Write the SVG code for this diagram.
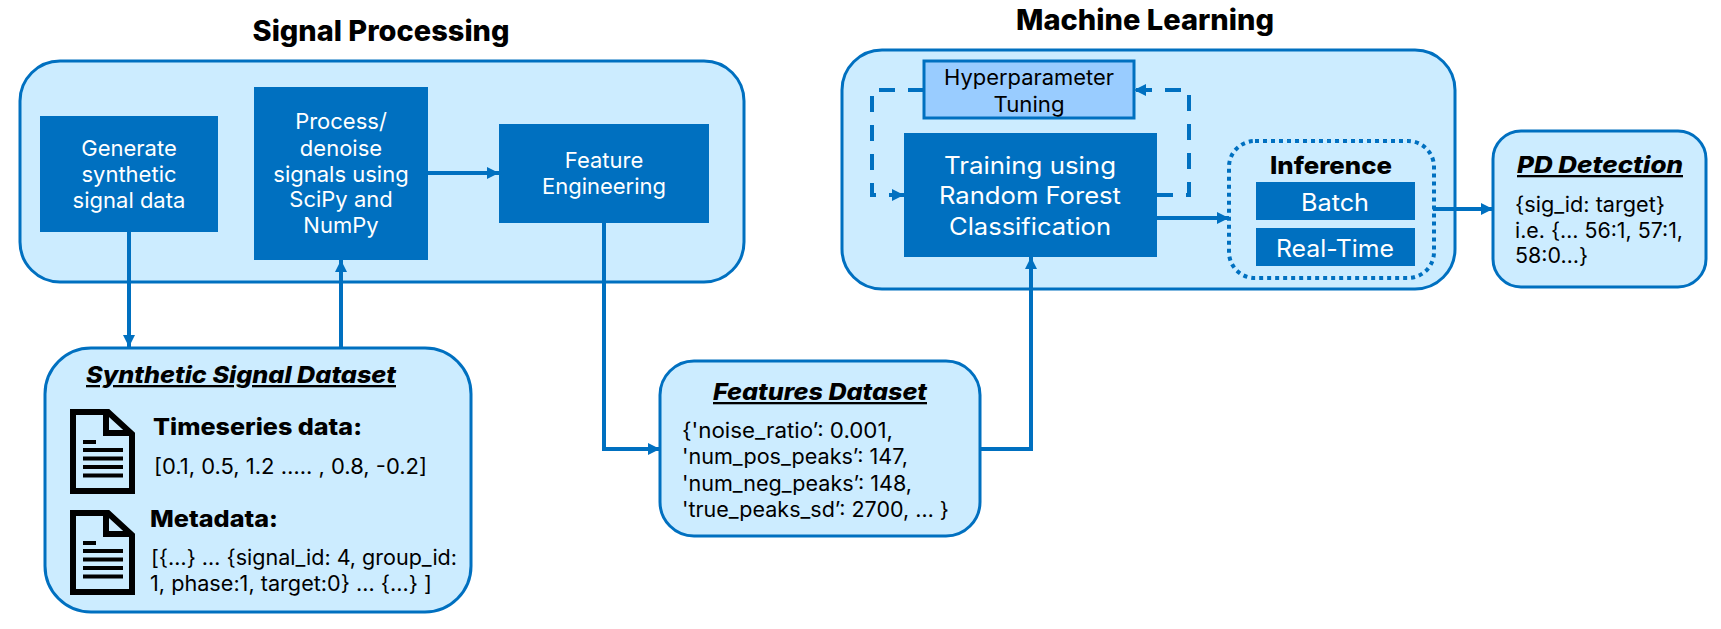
<svg xmlns="http://www.w3.org/2000/svg" xmlns:xlink="http://www.w3.org/1999/xlink" width="1721" height="629" viewBox="0 0 1721 629">
<style>
text{font-family:Inter,"Noto Sans","Liberation Sans",sans-serif;fill:#000}
.panel{fill:#CCECFF;stroke:#0070C0;stroke-width:3}
.box{fill:#0070C0}
.w{fill:#fff;font-size:22px;text-anchor:middle}
.h{font-size:28px;font-weight:800;text-anchor:middle}
.t{font-size:23px;font-weight:800;font-style:italic;text-decoration:underline}
.b{font-size:23px;font-weight:800}
.r{font-size:21px}
.c{fill:none;stroke:#0070C0;stroke-width:4}
.i{fill:none;stroke:#000;stroke-width:6}
.il{stroke:#000;stroke-width:4}
</style>
<defs>
<marker id="a" markerUnits="userSpaceOnUse" markerWidth="14" markerHeight="14" refX="12" refY="7" orient="auto"><path d="M0,1 L12,7 L0,13 Z" fill="#0070C0"/></marker>
<g id="doc">
<path class="i" d="M3,3 H38 L62,25 V82 H3 Z M36,3 V24 H62"/>
<path class="il" d="M13,33 H26 M13,41 H53 M13,49.600 H53 M13,58 H53 M13,66.600 H53"/>
</g>
</defs>
<g id="signal-title"><text class="h" x="381" y="41" textLength="257" lengthAdjust="spacingAndGlyphs">Signal Processing</text></g>
<g id="ml-title"><text class="h" x="1145" y="30" textLength="258" lengthAdjust="spacingAndGlyphs">Machine Learning</text></g>
<g id="signal-panel"><rect class="panel" x="20" y="61" width="724" height="221" rx="40"/></g>
<g id="ml-panel"><rect class="panel" x="842" y="50" width="613" height="239" rx="40"/></g>
<g id="connectors">
<path class="c" d="M129,232 V347" marker-end="url(#a)"/>
<path class="c" d="M341,348 V260" marker-end="url(#a)"/>
<path class="c" d="M428,173 H499" marker-end="url(#a)"/>
<path class="c" d="M604,223 V449 H660" marker-end="url(#a)"/>
<path class="c" d="M980,449 H1031 V257" marker-end="url(#a)"/>
<path class="c" d="M1157,218 H1229" marker-end="url(#a)"/>
<path class="c" d="M1433,209 H1493" marker-end="url(#a)"/>
<path class="c" d="M924,90 H872 V195 H904" stroke-dasharray="16 13" marker-end="url(#a)"/>
<path class="c" d="M1157,195 H1189 V90 H1134" stroke-dasharray="16 13" marker-end="url(#a)"/>
</g>
<g id="generate"><rect class="box" x="40" y="116" width="178" height="116"/>
<text class="w" x="129" y="156">Generate</text><text class="w" x="129" y="182">synthetic</text><text class="w" x="129" y="208">signal data</text></g>
<g id="process"><rect class="box" x="254" y="87" width="174" height="173"/>
<text class="w" x="341" y="129">Process/</text><text class="w" x="341" y="156">denoise</text><text class="w" x="341" y="182">signals using</text><text class="w" x="341" y="207">SciPy and</text><text class="w" x="341" y="233">NumPy</text></g>
<g id="feature-eng"><rect class="box" x="499" y="124" width="210" height="99"/>
<text class="w" x="604" y="168">Feature</text><text class="w" x="604" y="194">Engineering</text></g>
<g id="synthetic"><rect class="panel" x="45" y="348" width="426" height="264" rx="46"/>
<text class="t" x="86" y="383" textLength="310" lengthAdjust="spacingAndGlyphs">Synthetic Signal Dataset</text>
<use xlink:href="#doc" href="#doc" x="70" y="409"/>
<text class="b" x="153" y="435" textLength="209" lengthAdjust="spacingAndGlyphs">Timeseries data:</text>
<text class="r" x="154" y="474" textLength="273" lengthAdjust="spacingAndGlyphs">[0.1, 0.5, 1.2 ….. , 0.8, -0.2]</text>
<use xlink:href="#doc" href="#doc" x="70" y="510"/>
<text class="b" x="150" y="527" textLength="128" lengthAdjust="spacingAndGlyphs">Metadata:</text>
<text class="r" x="151" y="565" textLength="306" lengthAdjust="spacingAndGlyphs">[{…} … {signal_id: 4, group_id:</text>
<text class="r" x="150" y="591" textLength="282" lengthAdjust="spacingAndGlyphs">1, phase:1, target:0} … {…} ]</text></g>
<g id="features"><rect class="panel" x="660" y="361" width="320" height="175" rx="34"/>
<text class="t" x="713" y="400" textLength="214" lengthAdjust="spacingAndGlyphs">Features Dataset</text>
<text class="r" x="682" y="438" textLength="211" lengthAdjust="spacingAndGlyphs">{'noise_ratio’: 0.001,</text>
<text class="r" x="682" y="464" textLength="226" lengthAdjust="spacingAndGlyphs">'num_pos_peaks’: 147,</text>
<text class="r" x="682" y="491" textLength="230" lengthAdjust="spacingAndGlyphs">'num_neg_peaks’: 148,</text>
<text class="r" x="682" y="517" textLength="267" lengthAdjust="spacingAndGlyphs">'true_peaks_sd’: 2700, … }</text></g>
<g id="hyper"><rect x="924" y="61" width="210" height="57" fill="#99CCFF" stroke="#0070C0" stroke-width="3"/>
<text class="r" x="1029" y="85" text-anchor="middle" textLength="170" lengthAdjust="spacingAndGlyphs">Hyperparameter</text>
<text class="r" x="1029" y="112" text-anchor="middle" textLength="71" lengthAdjust="spacingAndGlyphs">Tuning</text></g>
<g id="training"><rect class="box" x="904" y="133" width="253" height="124"/>
<text class="w" x="1030" y="174" style="font-size:24px" textLength="172" lengthAdjust="spacingAndGlyphs">Training using</text>
<text class="w" x="1030" y="204" style="font-size:24px" textLength="182" lengthAdjust="spacingAndGlyphs">Random Forest</text>
<text class="w" x="1030" y="235" style="font-size:24px" textLength="162" lengthAdjust="spacingAndGlyphs">Classification</text></g>
<g id="inference"><rect x="1229" y="141" width="205" height="137" rx="26" fill="none" stroke="#0070C0" stroke-width="4" stroke-dasharray="4 4"/>
<text x="1331" y="174" font-size="24" font-weight="800" text-anchor="middle" textLength="122" lengthAdjust="spacingAndGlyphs">Inference</text>
<rect class="box" x="1256" y="182" width="159" height="38"/>
<text class="w" x="1335" y="211" style="font-size:24px" textLength="68" lengthAdjust="spacingAndGlyphs">Batch</text>
<rect class="box" x="1256" y="228" width="159" height="38"/>
<text class="w" x="1335" y="257" style="font-size:24px" textLength="118" lengthAdjust="spacingAndGlyphs">Real-Time</text></g>
<g id="pd"><rect class="panel" x="1493" y="131" width="213" height="156" rx="28"/>
<text class="t" x="1517" y="173" textLength="166" lengthAdjust="spacingAndGlyphs">PD Detection</text>
<text class="r" x="1515" y="212" textLength="150" lengthAdjust="spacingAndGlyphs">{sig_id: target}</text>
<text class="r" x="1515" y="238" textLength="168" lengthAdjust="spacingAndGlyphs">i.e. {… 56:1, 57:1,</text>
<text class="r" x="1515" y="263" textLength="73" lengthAdjust="spacingAndGlyphs">58:0…}</text></g>
</svg>
